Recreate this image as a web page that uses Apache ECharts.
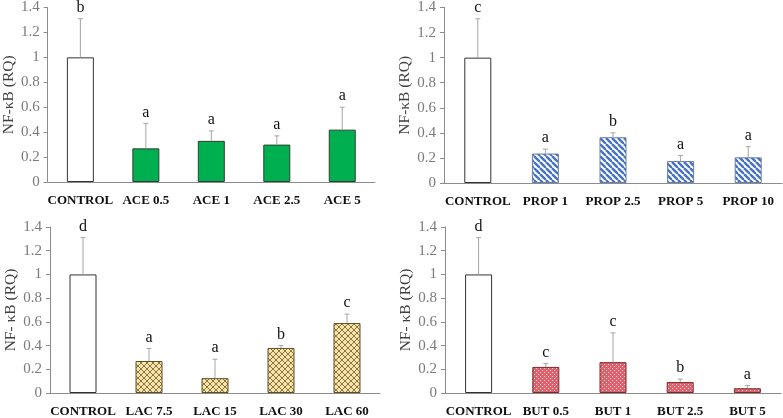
<!DOCTYPE html>
<html>
<head>
<meta charset="utf-8">
<script src="https://cdn.jsdelivr.net/npm/echarts@6/dist/echarts.min.js"></script>
<style>html,body{margin:0;padding:0;background:#fff}#c{width:783px;height:418px}</style>
</head>
<body>
<div id="c"></div>
<script>
// ---- data ----
const aceCategories = ['CONTROL', 'ACE 0.5', 'ACE 1', 'ACE 2.5', 'ACE 5'];
const aceValues = [1.00, 0.27, 0.33, 0.30, 0.42];
const aceErrors = [0.31, 0.20, 0.08, 0.07, 0.18];
const aceLetters = ['b', 'a', 'a', 'a', 'a'];

const propCategories = ['CONTROL', 'PROP 1', 'PROP 2.5', 'PROP 5', 'PROP 10'];
const propValues = [1.00, 0.235, 0.365, 0.175, 0.205];
const propErrors = [0.31, 0.035, 0.035, 0.045, 0.085];
const propLetters = ['c', 'a', 'b', 'a', 'a'];

const lacCategories = ['CONTROL', 'LAC 7.5', 'LAC 15', 'LAC 30', 'LAC 60'];
const lacValues = [1.00, 0.27, 0.125, 0.38, 0.59];
const lacErrors = [0.31, 0.105, 0.16, 0.02, 0.075];
const lacLetters = ['d', 'a', 'a', 'b', 'c'];

const butCategories = ['CONTROL', 'BUT 0.5', 'BUT 1', 'BUT 2.5', 'BUT 5'];
const butValues = [1.00, 0.22, 0.26, 0.092, 0.04];
const butErrors = [0.31, 0.028, 0.247, 0.025, 0.024];
const butLetters = ['d', 'c', 'c', 'b', 'a'];

const yTitleTop = 'NF-\u03baB (RQ)';
const yTitleBottom = 'NF- \u03baB (RQ)';

// ---- patterns ----
function stripePattern() {
  const s = 6, c = document.createElement('canvas');
  c.width = s; c.height = s;
  const g = c.getContext('2d');
  g.fillStyle = '#ffffff'; g.fillRect(0, 0, s, s);
  g.strokeStyle = '#4472C4'; g.lineWidth = 2.4;
  for (let k = -1; k <= 1; k++) {
    g.beginPath(); g.moveTo(k * s, 0); g.lineTo(k * s + s, s); g.stroke();
  }
  return { image: c, repeat: 'repeat' };
}
function crossPattern() {
  const s = 6, c = document.createElement('canvas');
  c.width = s; c.height = s;
  const g = c.getContext('2d');
  g.fillStyle = '#F8E4A8'; g.fillRect(0, 0, s, s);
  g.strokeStyle = '#8A7440'; g.lineWidth = 1;
  for (let k = -1; k <= 1; k++) {
    g.beginPath(); g.moveTo(k * s, 0); g.lineTo(k * s + s, s); g.stroke();
    g.beginPath(); g.moveTo(k * s + s, 0); g.lineTo(k * s, s); g.stroke();
  }
  return { image: c, repeat: 'repeat' };
}
function dotPattern() {
  const s = 4, c = document.createElement('canvas');
  c.width = s; c.height = s;
  const g = c.getContext('2d');
  g.fillStyle = '#E0606C'; g.fillRect(0, 0, s, s);
  g.fillStyle = 'rgba(255,235,235,0.9)';
  g.fillRect(0, 0, 1, 1); g.fillRect(2, 2, 1, 1);
  return { image: c, repeat: 'repeat' };
}

const panels = [
  { cats: aceCategories, vals: aceValues, errs: aceErrors, letters: aceLetters, title: yTitleTop,
    fill: '#00B050', border: '#2E3F2E', grid: { left: 44, top: 6, width: 331, height: 176 } },
  { cats: propCategories, vals: propValues, errs: propErrors, letters: propLetters, title: yTitleTop,
    fill: stripePattern(), border: '#6b7f9f', grid: { left: 444, top: 6, width: 338, height: 177 } },
  { cats: lacCategories, vals: lacValues, errs: lacErrors, letters: lacLetters, title: yTitleBottom,
    fill: crossPattern(), border: '#5E4E26', grid: { left: 50, top: 227, width: 330, height: 168 } },
  { cats: butCategories, vals: butValues, errs: butErrors, letters: butLetters, title: yTitleBottom,
    fill: dotPattern(), border: '#7A2A2A', grid: { left: 445, top: 227, width: 336, height: 168 } }
];

const FONT = 'Liberation Serif';
const grids = [], xAxes = [], yAxes = [], series = [];
panels.forEach((p, i) => {
  grids.push(p.grid);
  xAxes.push({
    type: 'category', gridIndex: i, data: p.cats,
    axisLine: { lineStyle: { color: '#8c8c8c', width: 1 } },
    axisTick: { show: false },
    axisLabel: { color: '#111', fontFamily: FONT, fontWeight: 'bold', fontSize: 13, margin: 12, interval: 0 }
  });
  yAxes.push({
    type: 'value', gridIndex: i, min: 0, max: 1.4, interval: 0.2,
    name: p.title, nameLocation: 'middle', nameGap: i === 2 ? 31 : 27, nameRotate: 90,
    nameTextStyle: { color: '#404040', fontFamily: FONT, fontSize: 15.5 },
    axisLine: { show: true, lineStyle: { color: '#8c8c8c', width: 1 } },
    axisTick: { show: true, inside: false, length: 4, lineStyle: { color: '#8c8c8c' } },
    axisLabel: { color: '#7a7a7a', fontFamily: FONT, fontSize: 15, margin: 8 },
    splitLine: { show: false }
  });
  series.push({
    type: 'bar', xAxisIndex: i, yAxisIndex: i, barWidth: 27,
    data: p.vals.map((v, k) => ({
      value: v,
      itemStyle: k === 0
        ? { color: '#ffffff', borderColor: '#333333', borderWidth: 1 }
        : { color: p.fill, borderColor: p.border, borderWidth: 1 }
    })),
    silent: true
  });
  series.push({
    type: 'custom', xAxisIndex: i, yAxisIndex: i, silent: true, z: 5,
    data: p.vals.map((v, k) => [k, v, v + p.errs[k], p.letters[k]]),
    renderItem: function (params, api) {
      const x = api.value(0);
      const base = api.coord([x, api.value(1)]);
      const top = api.coord([x, api.value(2)]);
      const letter = p.letters[params.dataIndex];
      return {
        type: 'group',
        children: [
          { type: 'line', shape: { x1: base[0], y1: base[1], x2: top[0], y2: top[1] },
            style: { stroke: '#a6a6a6', lineWidth: 1 } },
          { type: 'line', shape: { x1: top[0] - 2.5, y1: top[1], x2: top[0] + 2.5, y2: top[1] },
            style: { stroke: '#a6a6a6', lineWidth: 1 } },
          { type: 'text', x: top[0], y: top[1] - 3,
            style: { text: letter, fill: '#111', font: '16px "' + FONT + '"', align: 'center', verticalAlign: 'bottom' } }
        ]
      };
    }
  });
});

const chart = echarts.init(document.getElementById('c'), null, { renderer: 'canvas' });
chart.setOption({
  animation: false,
  backgroundColor: '#ffffff',
  grid: grids, xAxis: xAxes, yAxis: yAxes, series: series
});
</script>
</body>
</html>
